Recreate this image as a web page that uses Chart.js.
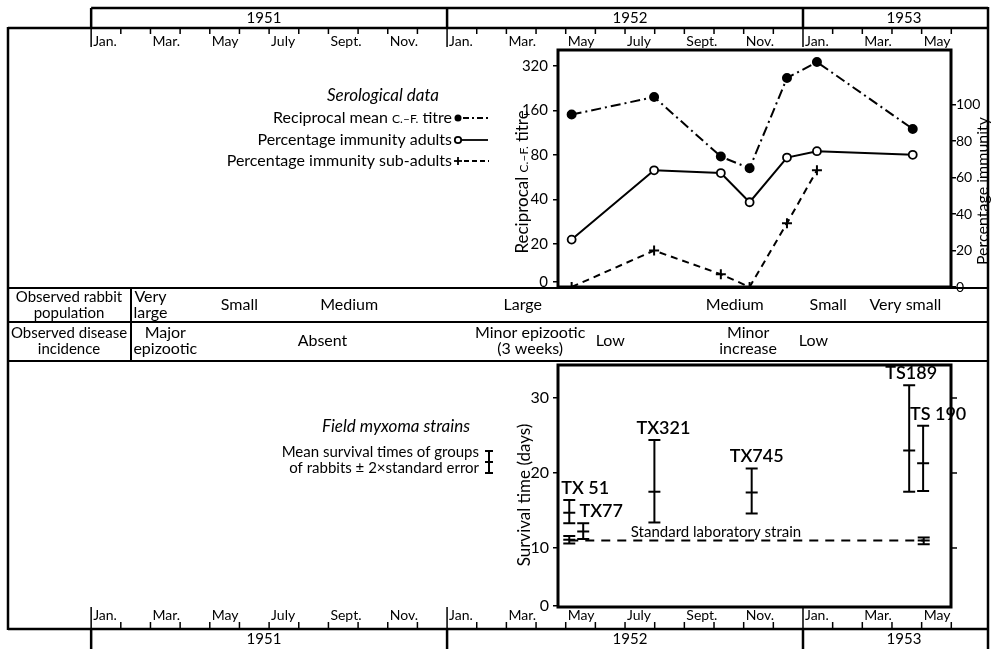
<!DOCTYPE html>
<html>
<head>
<meta charset="utf-8">
<script src="https://cdn.jsdelivr.net/npm/chart.js@4.4.1/dist/chart.umd.min.js"></script>
<style>
  html, body { margin: 0; padding: 0; background: #fff; }
  #wrap { position: relative; width: 994px; height: 649px; }
  #wrap canvas { position: absolute; left: 0; top: 0; }
</style>
</head>
<body>
<div id="wrap">
  <canvas id="sero" width="994" height="649"></canvas>
  <canvas id="strains" width="994" height="649"></canvas>
</div>
<script>
// time is counted in months from 1 Jan 1951 (12 = Jan 1952, 24 = Jan 1953)
const monthNames = ['Jan.', 'Mar.', 'May', 'July', 'Sept.', 'Nov.'];
const years = ['1951', '1952', '1953'];

// serological data
const seroMonths = [16.2, 18.98, 21.23, 22.2, 23.46, 24.47, 27.7];
const titre = [150, 197, 78, 65, 265, 340, 120];
const immunityAdults = [26, 64, 62.5, 46.5, 71, 74.5, 72.5];
const immunitySubAdults = [0, 20, 7, 0, 35, 64];
const titreTicks = [0, 20, 40, 80, 160, 320];
const immunityTicks = [0, 20, 40, 60, 80, 100];

// field notes, placed by month
const populationText = ['Very\nlarge', 'Small', 'Medium', 'Large', 'Medium', 'Small', 'Very small'];
const populationMonth = [2.0, 5.0, 8.7, 14.55, 21.7, 24.85, 27.45];
const diseaseText = ['Major\nepizootic', 'Absent', 'Minor epizootic\n(3 weeks)', 'Low', 'Minor\nincrease', 'Low'];
const diseaseMonth = [2.5, 7.8, 14.8, 17.5, 22.15, 24.35];

// field myxoma strains, mean survival time (days) +- 2 s.e.
const strainNames = ['TX 51', 'TX77', 'TX321', 'TX745', 'TS189', 'TS 190'];
const strainMonth = [16.12, 16.59, 18.99, 22.27, 27.58, 28.05];
const strainMean = [14.7, 12.2, 17.5, 17.4, 23.0, 21.3];
const strainLow = [13.3, 11.2, 13.4, 14.6, 17.5, 17.6];
const strainHigh = [16.4, 13.3, 24.4, 20.6, 31.7, 26.3];

// standard laboratory strain
const labMonth = [16.12, 28.07];
const labMean = [11.1, 11.0];
const labLow = [10.6, 10.5];
const labHigh = [11.6, 11.4];
const labLevel = 11.0;
const survivalTicks = [0, 10, 20, 30];

const FONT = 'Lato, "DejaVu Sans", sans-serif';
const X_MIN = 15.74, X_MAX = 28.99;

Chart.defaults.font.family = FONT;
Chart.defaults.color = '#000';

function seg(ctx, x1, y1, x2, y2) {
  ctx.beginPath(); ctx.moveTo(x1, y1); ctx.lineTo(x2, y2); ctx.stroke();
}
function txt(ctx, s, x, y, size, align, style) {
  ctx.font = (style || '') + ' ' + size + 'px ' + FONT;
  ctx.textAlign = align || 'center';
  ctx.textBaseline = 'middle';
  const lines = s.split('\n');
  lines.forEach((l, i) => ctx.fillText(l, x, y + (i - (lines.length - 1) / 2) * 16));
}
// text with mixed sizes, y is the baseline
function rich(ctx, parts, x, y, align) {
  let w = 0;
  parts.forEach(p => { ctx.font = p[1] + 'px ' + FONT; w += ctx.measureText(p[0]).width; });
  let sx = align === 'right' ? x - w : align === 'center' ? x - w / 2 : x;
  ctx.textAlign = 'left';
  ctx.textBaseline = 'alphabetic';
  parts.forEach(p => {
    ctx.font = p[1] + 'px ' + FONT;
    ctx.fillText(p[0], sx, y);
    sx += ctx.measureText(p[0]).width;
  });
}
function vtext(ctx, parts, x, y) {
  ctx.save();
  ctx.translate(x, y);
  ctx.rotate(-Math.PI / 2);
  rich(ctx, parts, 0, 6, 'center');
  ctx.restore();
}

const seroDecor = {
  id: 'seroDecor',
  afterDraw(chart) {
    const ctx = chart.ctx;
    const X = m => chart.scales.x.getPixelForValue(m);
    const ca = chart.chartArea;
    ctx.save();
    ctx.strokeStyle = '#000';
    ctx.fillStyle = '#000';

    // outer frame and year boxes
    ctx.lineWidth = 2.5;
    seg(ctx, 8, 28, 988, 28);
    seg(ctx, 8, 27, 8, 630);
    seg(ctx, 988, 7, 988, 649);
    seg(ctx, 8, 629, 988, 629);
    seg(ctx, X(0), 8, 988, 8);
    [0, 12, 24].forEach(m => { seg(ctx, X(m), 8, X(m), 28); seg(ctx, X(m), 629, X(m), 649); });
    const yearMid = [264, 630, 904];
    years.forEach((y, i) => {
      txt(ctx, y, yearMid[i], 18, 15);
      txt(ctx, y, yearMid[i], 639, 15);
    });

    // month ticks and labels, top and bottom
    ctx.lineWidth = 1.5;
    for (let m = 0; m <= 29; m++) {
      const x = X(m), yr = m % 12 === 0;
      seg(ctx, x, 28, x, yr ? 47 : 34);
      seg(ctx, x, 629, x, yr ? 607 : 622);
    }
    for (let m = 0; m <= 28; m += 2) {
      const name = monthNames[(m / 2) % 6];
      txt(ctx, name, X(m) + 2, 41, 14, 'left');
      txt(ctx, name, X(m) + 2, 615, 14, 'left');
    }

    // table of observations
    ctx.lineWidth = 2;
    seg(ctx, 8, 288, 988, 288);
    seg(ctx, 8, 322, 988, 322);
    seg(ctx, 8, 361, 988, 361);
    seg(ctx, 131, 288, 131, 361);
    txt(ctx, 'Observed rabbit\npopulation', 69, 305, 15);
    txt(ctx, 'Observed disease\nincidence', 69, 341, 15);
    populationText.forEach((s, i) => txt(ctx, s, X(populationMonth[i]), 305, 16));
    diseaseText.forEach((s, i) => txt(ctx, s, X(diseaseMonth[i]), 341, 16));

    // plot frame
    ctx.lineWidth = 3;
    ctx.strokeRect(ca.left, ca.top, ca.right - ca.left, ca.bottom - ca.top);

    // axis titles
    vtext(ctx, [['Reciprocal ', 17], ['C.\u2013F.', 12], [' titre', 17]], 522, 182);
    vtext(ctx, [['Percentage immunity', 16]], 982, 191);

    // legend
    txt(ctx, 'Serological data', 383, 96, 17, 'center', 'italic');
    rich(ctx, [['Reciprocal mean ', 16], ['C.\u2013F.', 12], [' titre', 16]], 452, 123, 'right');
    rich(ctx, [['Percentage immunity adults', 16]], 452, 145, 'right');
    rich(ctx, [['Percentage immunity sub-adults', 16]], 452, 166, 'right');
    ctx.lineWidth = 1.8;
    ctx.beginPath(); ctx.arc(458, 118, 3.5, 0, Math.PI * 2); ctx.fill();
    ctx.setLineDash([6, 3, 2, 3]); seg(ctx, 463, 118, 488, 118);
    ctx.setLineDash([]);
    ctx.beginPath(); ctx.arc(458, 140, 3.2, 0, Math.PI * 2); ctx.stroke();
    seg(ctx, 462, 140, 488, 140);
    seg(ctx, 454, 161, 462, 161); seg(ctx, 458, 157, 458, 165);
    ctx.setLineDash([5, 3]); seg(ctx, 464, 161, 489, 161);
    ctx.restore();
  }
};

const strainDecor = {
  id: 'strainDecor',
  afterDatasetsDraw(chart) {
    const ctx = chart.ctx;
    const xs = chart.scales.x, ys = chart.scales.y;
    const ca = chart.chartArea;
    ctx.save();
    ctx.strokeStyle = '#000';
    ctx.fillStyle = '#000';
    ctx.lineWidth = 2;
    const bar = (m, lo, hi) => {
      const x = xs.getPixelForValue(m), y1 = ys.getPixelForValue(lo), y2 = ys.getPixelForValue(hi);
      seg(ctx, x, y1, x, y2);
      seg(ctx, x - 6, y1, x + 6, y1);
      seg(ctx, x - 6, y2, x + 6, y2);
    };
    strainMonth.forEach((m, i) => bar(m, strainLow[i], strainHigh[i]));
    labMonth.forEach((m, i) => bar(m, labLow[i], labHigh[i]));

    // strain names above their bars
    const dx = [16, 18, 9, 5, 2, 15];
    strainNames.forEach((s, i) => {
      txt(ctx, s, xs.getPixelForValue(strainMonth[i]) + dx[i], ys.getPixelForValue(strainHigh[i]) - 12, 18, 'center', '600');
    });
    txt(ctx, 'Standard laboratory strain', 716, 532, 15);

    // frame and right-hand ticks
    ctx.lineWidth = 3;
    ctx.strokeRect(ca.left, ca.top, ca.right - ca.left, ca.bottom - ca.top);
    ctx.lineWidth = 1.5;
    [10, 20, 30].forEach(v => { const y = ys.getPixelForValue(v); seg(ctx, ca.right, y, ca.right + 6, y); });

    vtext(ctx, [['Survival time (days)', 17]], 524, 495);

    // legend
    txt(ctx, 'Field myxoma strains', 396, 427, 17, 'center', 'italic');
    txt(ctx, 'Mean survival times of groups', 479, 452, 15, 'right');
    txt(ctx, 'of rabbits \u00b1 2\u00d7standard error', 479, 468, 15, 'right');
    ctx.lineWidth = 2;
    seg(ctx, 489, 451, 489, 473);
    seg(ctx, 485, 451, 493, 451); seg(ctx, 485, 473, 493, 473); seg(ctx, 485, 462, 493, 462);
    ctx.restore();
  }
};

const TITRE_BREAK = 11.07;   // where the "0" of the log scale is printed
const SURVIVAL_BREAK = 2.27; // where the "0" of the survival scale is printed

new Chart(document.getElementById('sero').getContext('2d'), {
  type: 'line',
  data: {
    datasets: [
      {
        data: seroMonths.map((m, i) => ({ x: m, y: titre[i] })),
        yAxisID: 'y',
        borderColor: '#000', borderWidth: 2, borderDash: [10, 4, 2, 4],
        pointStyle: 'circle', pointRadius: 4, pointBackgroundColor: '#000', pointBorderColor: '#000'
      },
      {
        data: seroMonths.map((m, i) => ({ x: m, y: immunityAdults[i] })),
        yAxisID: 'y1',
        borderColor: '#000', borderWidth: 2,
        pointStyle: 'circle', pointRadius: 4, pointBackgroundColor: '#fff', pointBorderColor: '#000', pointBorderWidth: 1.8
      },
      {
        data: immunitySubAdults.map((v, i) => ({ x: seroMonths[i], y: v })),
        yAxisID: 'y1',
        borderColor: '#000', borderWidth: 2, borderDash: [7, 5],
        pointStyle: 'cross', pointRadius: 5, pointBorderColor: '#000', pointBorderWidth: 2
      }
    ]
  },
  options: {
    responsive: false,
    animation: false,
    events: [],
    layout: { padding: { left: 518, right: 3, top: 50, bottom: 362 } },
    plugins: { legend: { display: false }, tooltip: { enabled: false } },
    elements: { line: { tension: 0 } },
    scales: {
      x: { type: 'linear', min: X_MIN, max: X_MAX, display: false },
      y: {
        type: 'logarithmic', position: 'left', min: 10.24, max: 410,
        afterBuildTicks: s => { s.ticks = titreTicks.map(v => ({ value: v === 0 ? TITRE_BREAK : v })); },
        afterFit: s => { s.width = 40; },
        ticks: { callback: (v, i) => String(titreTicks[i]), font: { size: 15 }, padding: 5 },
        grid: { drawOnChartArea: false, tickLength: 5, color: '#000', lineWidth: 1.5 },
        border: { display: false }
      },
      y1: {
        type: 'linear', position: 'right', min: 0, max: 130,
        afterBuildTicks: s => { s.ticks = immunityTicks.map(v => ({ value: v })); },
        afterFit: s => { s.width = 40; },
        ticks: { font: { size: 14 }, padding: 0 },
        grid: { drawOnChartArea: false, tickLength: 5, color: '#000', lineWidth: 1.5 },
        border: { display: false }
      }
    }
  },
  plugins: [seroDecor]
});

new Chart(document.getElementById('strains').getContext('2d'), {
  type: 'line',
  data: {
    datasets: [
      {
        data: labMonth.map(m => ({ x: m, y: labLevel })),
        borderColor: '#000', borderWidth: 2, borderDash: [9, 7], pointRadius: 0
      },
      {
        data: strainMonth.map((m, i) => ({ x: m, y: strainMean[i] })),
        showLine: false, pointStyle: 'line', pointRadius: 6, pointBorderColor: '#000', pointBorderWidth: 2
      },
      {
        data: labMonth.map((m, i) => ({ x: m, y: labMean[i] })),
        showLine: false, pointStyle: 'line', pointRadius: 6, pointBorderColor: '#000', pointBorderWidth: 2
      }
    ]
  },
  options: {
    responsive: false,
    animation: false,
    events: [],
    layout: { padding: { left: 518, right: 43, top: 365, bottom: 42 } },
    plugins: { legend: { display: false }, tooltip: { enabled: false } },
    scales: {
      x: { type: 'linear', min: X_MIN, max: X_MAX, display: false },
      y: {
        type: 'linear', position: 'left', min: 2.13, max: 34.4,
        afterBuildTicks: s => { s.ticks = survivalTicks.map(v => ({ value: v === 0 ? SURVIVAL_BREAK : v })); },
        afterFit: s => { s.width = 40; },
        ticks: { callback: (v, i) => String(survivalTicks[i]), font: { size: 16 }, padding: 4 },
        grid: { drawOnChartArea: false, tickLength: 5, color: '#000', lineWidth: 1.5 },
        border: { display: false }
      }
    }
  },
  plugins: [strainDecor]
});
</script>
</body>
</html>
